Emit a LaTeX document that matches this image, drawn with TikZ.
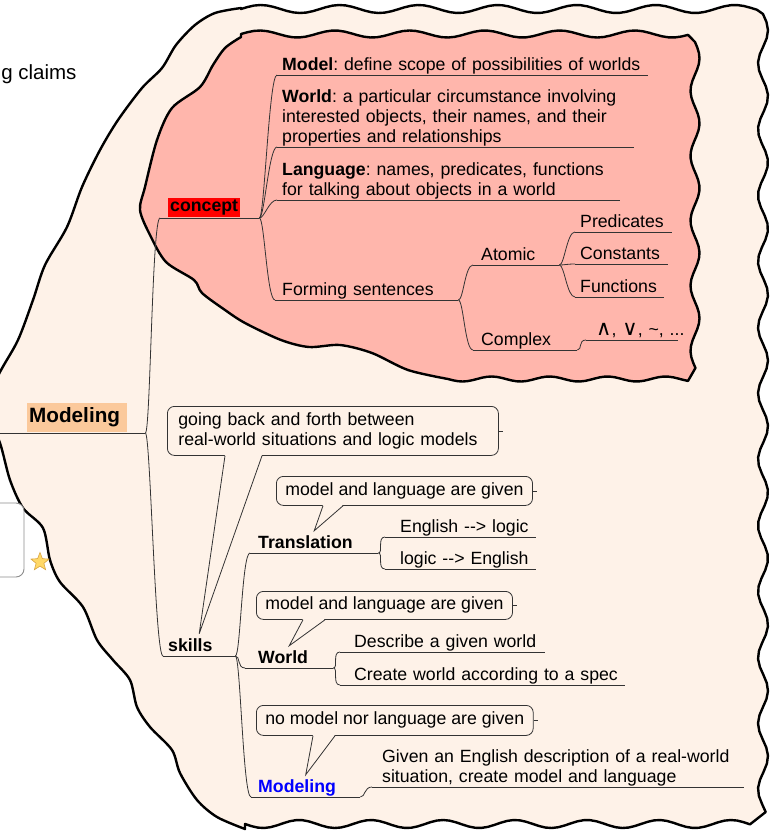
\documentclass[tikz,border=0pt]{standalone}
\usepackage{fontspec}
\setmainfont{Liberation Sans}
\newfontfamily\symfont{DejaVu Sans}
\usetikzlibrary{calc,positioning,shapes.geometric}
\frenchspacing

\definecolor{outerfill}{HTML}{FEF2E8}
\definecolor{innerfill}{HTML}{FFB6AC}
\definecolor{rootfill}{HTML}{FBC99B}
\definecolor{starfill}{HTML}{FFD866}
\definecolor{stardraw}{HTML}{D9A441}

\newcommand{\hl}[2]{{\setlength{\fboxsep}{2pt}\colorbox{#1}{#2}}}

\begin{document}
\begin{tikzpicture}[x=1pt,y=-1pt,font=\fontsize{17.7}{20}\selectfont,
    cloud/.style={line width=2.4pt, draw=black, line join=round},
    branch/.style={line width=0.8pt, draw=black!80},
    topic/.style={anchor=south west, inner xsep=5pt, inner ysep=4.5pt, text depth=0pt, align=left},
    callout/.style={draw=black!80, line width=0.8pt, rounded corners=7pt, fill=outerfill, anchor=north west, inner xsep=9pt, align=left}]
    \useasboundingbox (0,0) rectangle (771,833);

    % Aeussere Wolke
    \path[cloud, fill=outerfill]
        plot[smooth, tension=0.5] coordinates {(245,829) (217,817) (197,800) (180,773) (172,750) (150,727) (137,707) (130,680) (113,660) (97,640) (83,607) (60,582) (50,560) (43,528) (23,508) (10,480) (0,443) (-15,405) (0,372) (18,340) (33,300) (45,265) (67,227) (82,187) (100,150) (118,120) (142,88) (162,68) (176,45) (195,25) (215,13) (241,8)}
        -- plot[domain=241:757, samples=80] (\x, {9-4*sin(4.557*(\x-241))})
        -- plot[domain=14:812, samples=100] ({763+5*sin(5.4545*(\x-14))}, \x)
        -- plot[domain=750:245, samples=80] (\x, {824+4*sin(5*(\x-245))})
        -- cycle;

    % Innere Wolke (concept)
    \path[cloud, fill=innerfill]
        plot[smooth, tension=0.5] coordinates {(448,379) (408,370) (372,353) (340,345) (309,347) (281,340) (245,323) (225,310) (202,293) (194,280) (166,262) (150,235) (140,210) (145,187) (157,140) (172,108) (200,87) (213,65) (225,48) (241,37)}
        -- plot[domain=241:688, samples=70] (\x, {34-3.5*sin(4.8*(\x-241))})
        -- plot[domain=42:368, samples=60] ({695+4.5*sin(5.5385*(\x-42))}, \x)
        -- plot[domain=688:448, samples=50] (\x, {379+2.5*sin(6.2069*(\x-448))})
        -- cycle;

    % Reste am linken Rand
    \node[anchor=base east, font=\fontsize{20.5}{24}\selectfont] (claims) at (80,79) {g claims};
    \node[draw=black!45, line width=0.9pt, rounded corners=8pt, fill=white, minimum width=40pt, minimum height=74pt] (sidebox) at (4,540) {};
    \node[star, star points=5, star point ratio=2.3, fill=starfill, draw=stardraw, line width=0.6pt, minimum size=19pt, inner sep=0pt] (flag) at (40,562) {};

    % Wurzel und Hauptaeste
    \node[topic, text width=140pt, inner ysep=10pt, font=\fontsize{20.7}{24}\selectfont\bfseries] (root) at (-5,433) {\hspace*{27pt}\hl{rootfill}{\rule[-7pt]{0pt}{25pt}\makebox[96pt][l]{Modeling}}};
    \node[topic, text width=89pt, inner ysep=6.5pt] (concept) at (160,218) {\hspace*{3pt}\hl{red}{\bfseries concept}};
    \node[topic, text width=62pt] (skills) at (163,656) {\textbf{skills}};

    % Teilbaum concept
    \node[topic, text width=361pt] (model) at (277,75) {\textbf{Model}: define scope of possibilities of worlds};
    \node[topic, text width=347pt, text depth=40pt] (world) at (277,147) {\textbf{World}: a particular circumstance involving\\interested objects, their names, and their\\properties and relationships};
    \node[topic, text width=333pt, text depth=20pt] (language) at (277,200) {\textbf{Language}: names, predicates, functions\\for talking about objects in a world};
    \node[topic, text width=173pt] (forming) at (275,300) {\hspace*{2pt}Forming sentences};
    \node[topic, text width=76pt] (atomic) at (473,265) {\hspace*{3pt}Atomic};
    \node[topic, text width=94pt] (complex) at (473,350) {\hspace*{3pt}Complex};
    \node[topic, text width=87pt] (predicates) at (575,232) {Predicates};
    \node[topic, text width=83pt] (constants) at (575,264) {Constants};
    \node[topic, text width=79pt] (functions) at (575,297) {\mbox{Functions}};
    \node[topic, text width=82pt] (ops) at (586,340) {\mbox{\hspace*{5pt}{\symfont\fontsize{21}{20}\selectfont ∧}, {\symfont\fontsize{21}{20}\selectfont ∨}, \textasciitilde, ...}};

    % Teilbaum skills
    \node[topic, text width=118pt] (translation) at (250,553) {\hspace*{3pt}\textbf{Translation}};
    \node[topic, text width=141pt] (englogic) at (385,537) {\hspace*{10pt}English -{}-{}> logic};
    \node[topic, text width=141pt] (logiceng) at (385,569) {\hspace*{10pt}logic -{}-{}> English};
    \node[topic, text width=78pt] (worldsk) at (245,668) {\hspace*{8pt}\textbf{World}};
    \node[topic, text width=195pt] (describe) at (340,652) {\hspace*{9pt}Describe a given world};
    \node[topic, text width=275pt] (create) at (340,685) {\hspace*{9pt}Create world according to a spec};
    \node[topic, text width=99pt, text=blue] (modelsk) at (251,797) {\hspace*{2pt}\textbf{Modeling}};
    \node[topic, text width=352pt, inner xsep=10pt, text depth=20pt] (given) at (372,787) {Given an English description of a real-world\\situation, create model and language};

    % Unterstriche
    \foreach \n in {root,concept,skills,model,world,language,forming,atomic,complex,predicates,constants,functions,ops,translation,englogic,logiceng,worldsk,describe,create,modelsk,given}
        \draw[branch] (\n.south west) -- (\n.south east);

    % Verbindungen
    \foreach \a/\b in {root/concept, root/skills, concept/model, concept/world, concept/language, concept/forming, forming/atomic, forming/complex, atomic/predicates, atomic/constants, atomic/functions, complex/ops, skills/translation, skills/worldsk, skills/modelsk, translation/englogic, translation/logiceng, worldsk/describe, worldsk/create, modelsk/given}
        \draw[branch] (\a.south east) .. controls +(5,0) and +(-8,0) .. (\b.south west);

    % Sprechblasen
    \node[callout, text width=309pt, inner xsep=11pt, minimum height=49pt] (gob) at (167,406) {going back and forth between\\real-world situations and logic models};
    \node[callout, minimum height=29pt] (cltrans) at (276,476) {model and language are given};
    \node[callout, minimum height=28pt] (clworld) at (256,591) {model and language are given};
    \node[callout, minimum height=30pt] (clmodel) at (256,705) {no model nor language are given};

    % Spitzen der Sprechblasen
    \foreach \c/\t/\p/\q in {gob/skills/58/95, cltrans/translation/47/67, clworld/worldsk/47/69, clmodel/modelsk/57/79} {
        \fill[outerfill] ($(\c.south west)+(\p,-1)$) -- (\t.north) -- ($(\c.south west)+(\q,-1)$) -- cycle;
        \draw[branch] ($(\c.south west)+(\p,0)$) -- (\t.north) -- ($(\c.south west)+(\q,0)$);
        \draw[branch] (\c.east) -- ++(4,0);
    }
\end{tikzpicture}
\end{document}
